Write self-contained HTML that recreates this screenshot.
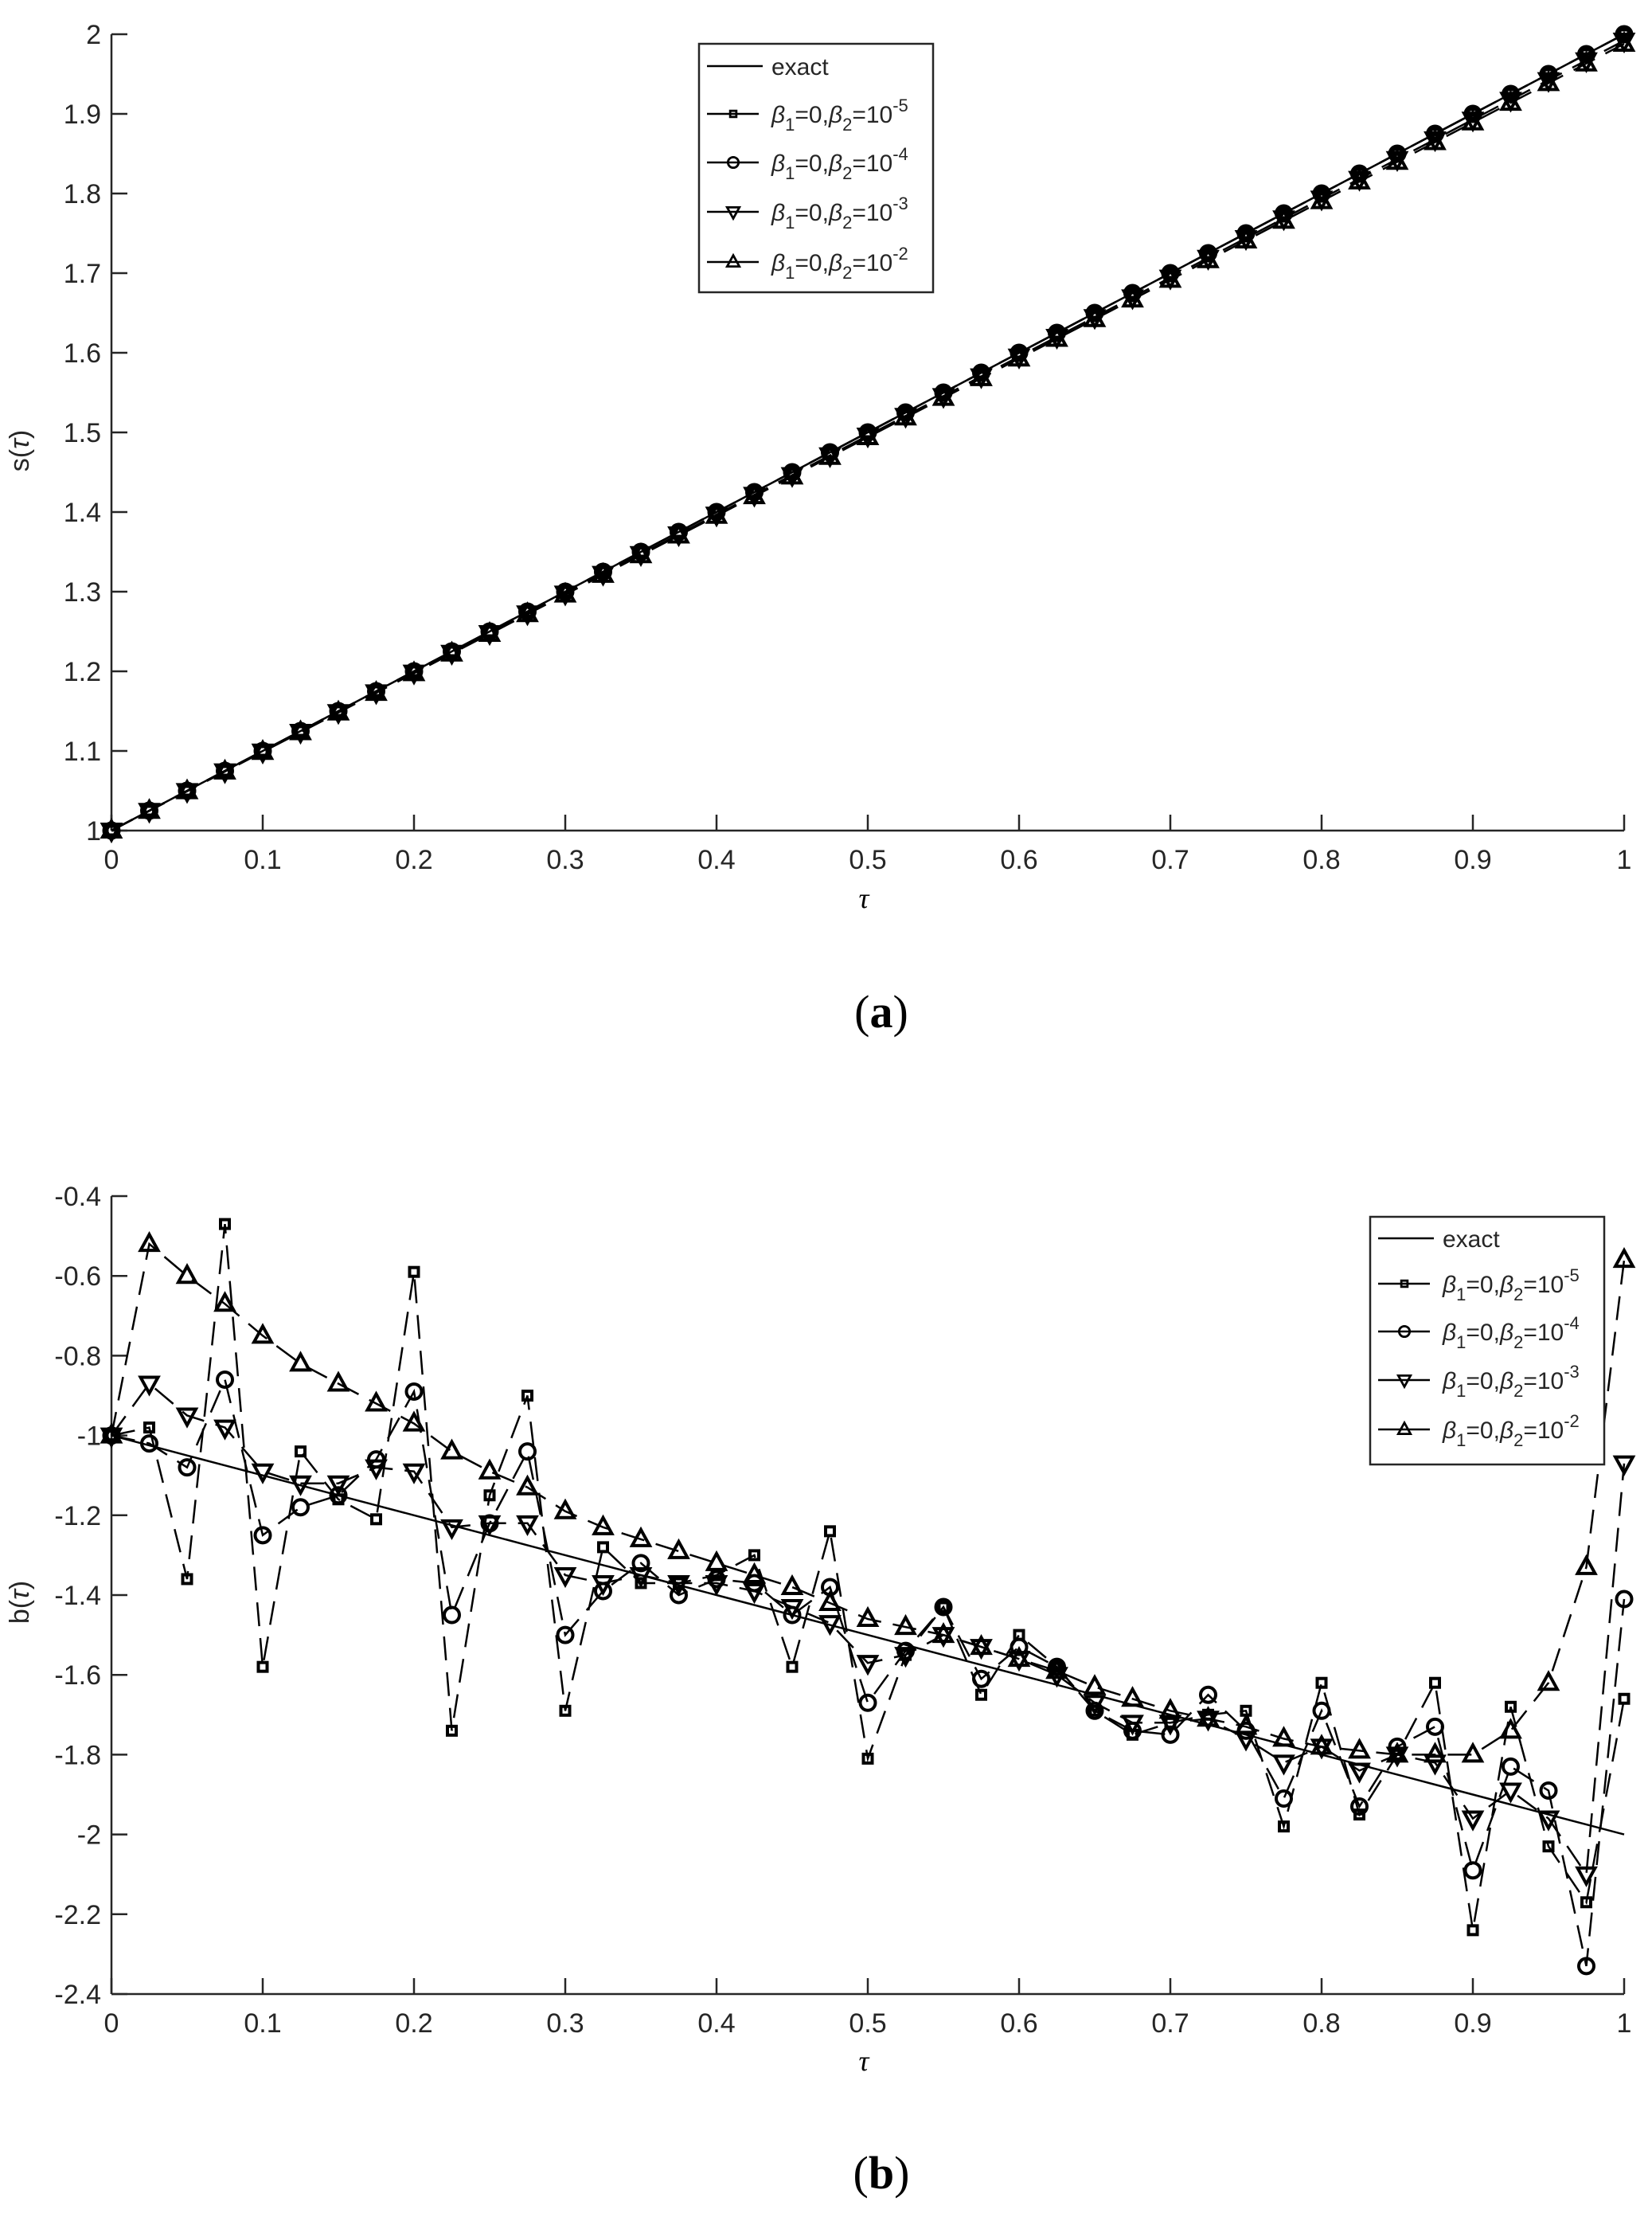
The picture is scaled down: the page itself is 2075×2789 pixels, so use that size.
<!DOCTYPE html>
<html><head><meta charset="utf-8"><style>
html,body{margin:0;padding:0;background:#fff;}
svg{display:block;}
text{font-family:"Liberation Sans",sans-serif;fill:#262626;}
</style></head><body>
<svg id="s" width="2075" height="2789" viewBox="0 0 2075 2789" xmlns="http://www.w3.org/2000/svg">
<defs>
<g id="msq"><rect x="-5.5" y="-5.5" width="11" height="11" fill="none" stroke="#000" stroke-width="4"/></g>
<g id="mci"><circle r="9.5" fill="none" stroke="#000" stroke-width="4"/></g>
<g id="mdn"><path d="M-11,-8 L11,-8 L0,12 Z" fill="none" stroke="#000" stroke-width="4"/></g>
<g id="mup"><path d="M-11,8 L11,8 L0,-12 Z" fill="none" stroke="#000" stroke-width="4"/></g>
</defs>
<g id="plots"></g>
</svg>
<script>
(function(){
var NS="http://www.w3.org/2000/svg";var root=document.getElementById("plots");
function el(t,a,p){var e=document.createElementNS(NS,t);for(var k in a)e.setAttribute(k,a[k]);(p||root).appendChild(e);return e;}
function txt(x,y,s,a){var e=el("text",Object.assign({x:x,y:y},a||{}));e.innerHTML=s;return e;}
var X0=140,X1=2040;
function px(t){return X0+(X1-X0)*t;}
function axes(yTop,yBot,vTop,vBot,ticks,fmt){
  function py(v){return yTop+(yBot-yTop)*(vTop-v)/(vTop-vBot);}
  el("line",{x1:X0,y1:yTop,x2:X0,y2:yBot,stroke:"#262626","stroke-width":2.5});
  el("line",{x1:X0,y1:yBot,x2:X1,y2:yBot,stroke:"#262626","stroke-width":2.5});
  for(var i=0;i<=10;i++){var x=px(i/10);
    el("line",{x1:x,y1:yBot,x2:x,y2:yBot-20,stroke:"#262626","stroke-width":2.5});
    txt(x,yBot+48,i==0?"0":(i==10?"1":"0."+i),{"font-size":34,"text-anchor":"middle"});}
  ticks.forEach(function(v){var y=py(v);
    el("line",{x1:X0,y1:y,x2:X0+20,y2:y,stroke:"#262626","stroke-width":2.5});
    txt(127,y+12,fmt(v),{"font-size":34,"text-anchor":"end"});});
  return py;
}
function series(py,vals,mk,dash){
  var pts=vals.map(function(v,i){return px(i/40).toFixed(1)+","+py(v).toFixed(1);}).join(" ");
  el("polyline",{points:pts,fill:"none",stroke:"#000","stroke-width":2.5,"stroke-dasharray":dash?"30,15":"none"});
  if(mk)vals.forEach(function(v,i){el("use",{href:"#"+mk,x:px(i/40),y:py(v)});});
}
function legend(x,y,w,h,rows){
  el("rect",{x:x,y:y,width:w,height:h,fill:"#fff",stroke:"#262626","stroke-width":2.5});
  var mk=[null,"msq","mci","mdn","mup"];
  for(var i=0;i<5;i++){var ry=rows[i];
    if(i==0){el("line",{x1:x+10,y1:ry,x2:x+80,y2:ry,stroke:"#000","stroke-width":2.5});
      txt(x+91,ry+11,"exact",{"font-size":30});}
    else{el("line",{x1:x+10,y1:ry,x2:x+75,y2:ry,stroke:"#000","stroke-width":2.5});
      el("use",{href:"#"+mk[i],x:x+43,y:ry,transform:"translate("+(x+43)+","+ry+") scale(0.7) translate("+(-(x+43))+","+(-ry)+")"});
      txt(x+91,ry+11,'<tspan font-style="italic">β</tspan><tspan font-size="22" dy="10">1</tspan><tspan dy="-10">=0,</tspan><tspan font-style="italic">β</tspan><tspan font-size="22" dy="10">2</tspan><tspan dy="-10">=10</tspan><tspan font-size="22" dy="-14">-'+(6-i)+'</tspan>',{"font-size":30});}
  }
}
var serif="font-family:'Liberation Serif',serif;fill:#000;";
var pa=axes(43,1043,2,1,[1,1.1,1.2,1.3,1.4,1.5,1.6,1.7,1.8,1.9,2],function(v){return v==1?"1":v==2?"2":v.toFixed(1);});
var ex=[],s5=[],s4=[],s3=[],s2=[];
for(var i=0;i<=40;i++){var t=i/40;ex.push(1+t);s5.push(1+t);s4.push(1+t);s3.push(1+t*0.992);s2.push(1+t*0.988);}
series(pa,ex,null,false);series(pa,s5,"msq",true);series(pa,s4,"mci",true);series(pa,s3,"mdn",true);series(pa,s2,"mup",true);
legend(878,55,294,312,[83,143,204,266,329]);
txt(0,0,"s(<tspan font-style='italic'>τ</tspan>)",{"font-size":34,"text-anchor":"middle",transform:"translate(36,566) rotate(-90)"});
txt(1085,1140,"τ",{"font-size":36,"font-style":"italic","text-anchor":"middle",style:serif});
txt(1107,1290,"(<tspan font-weight='bold'>a</tspan>)",{"font-size":58,"text-anchor":"middle",style:serif});
var pb=axes(1502,2504,-0.4,-2.4,[-0.4,-0.6,-0.8,-1,-1.2,-1.4,-1.6,-1.8,-2,-2.2,-2.4],function(v){return (v==-1?"-1":v==-2?"-2":v.toFixed(1));});
var bex=[];for(var i=0;i<=40;i++)bex.push(-1-i/40);
var b5=[-1,-0.98,-1.36,-0.47,-1.58,-1.04,-1.16,-1.21,-0.59,-1.74,-1.15,-0.90,-1.69,-1.28,-1.37,-1.37,-1.35,-1.30,-1.58,-1.24,-1.81,-1.55,-1.43,-1.65,-1.50,-1.58,-1.69,-1.75,-1.72,-1.70,-1.69,-1.98,-1.62,-1.95,-1.80,-1.62,-2.24,-1.68,-2.03,-2.17,-1.66];
var b4=[-1,-1.02,-1.08,-0.86,-1.25,-1.18,-1.15,-1.06,-0.89,-1.45,-1.22,-1.04,-1.50,-1.39,-1.32,-1.40,-1.36,-1.37,-1.45,-1.38,-1.67,-1.54,-1.43,-1.61,-1.53,-1.58,-1.69,-1.74,-1.75,-1.65,-1.74,-1.91,-1.69,-1.93,-1.78,-1.73,-2.09,-1.83,-1.89,-2.33,-1.41];
var b3=[-1,-0.87,-0.95,-0.98,-1.09,-1.12,-1.12,-1.08,-1.09,-1.23,-1.22,-1.22,-1.35,-1.37,-1.35,-1.37,-1.37,-1.39,-1.43,-1.47,-1.57,-1.55,-1.50,-1.53,-1.56,-1.60,-1.67,-1.72,-1.72,-1.71,-1.76,-1.82,-1.78,-1.84,-1.80,-1.82,-1.96,-1.89,-1.96,-2.10,-1.07];
var b2=[-1,-0.52,-0.60,-0.67,-0.75,-0.82,-0.87,-0.92,-0.97,-1.04,-1.09,-1.13,-1.19,-1.23,-1.26,-1.29,-1.32,-1.35,-1.38,-1.42,-1.46,-1.48,-1.50,-1.53,-1.56,-1.59,-1.63,-1.66,-1.69,-1.71,-1.73,-1.76,-1.78,-1.79,-1.80,-1.80,-1.80,-1.74,-1.62,-1.33,-0.56];
series(pb,bex,null,false);series(pb,b5,"msq",true);series(pb,b4,"mci",true);series(pb,b3,"mdn",true);series(pb,b2,"mup",true);
legend(1721,1528,294,311,[1555,1612,1672,1733,1795]);
txt(0,0,"b(<tspan font-style='italic'>τ</tspan>)",{"font-size":34,"text-anchor":"middle",transform:"translate(36,2012) rotate(-90)"});
txt(1085,2600,"τ",{"font-size":36,"font-style":"italic","text-anchor":"middle",style:serif});
txt(1107,2748,"(<tspan font-weight='bold'>b</tspan>)",{"font-size":58,"text-anchor":"middle",style:serif});
})();
</script>
</body></html>
